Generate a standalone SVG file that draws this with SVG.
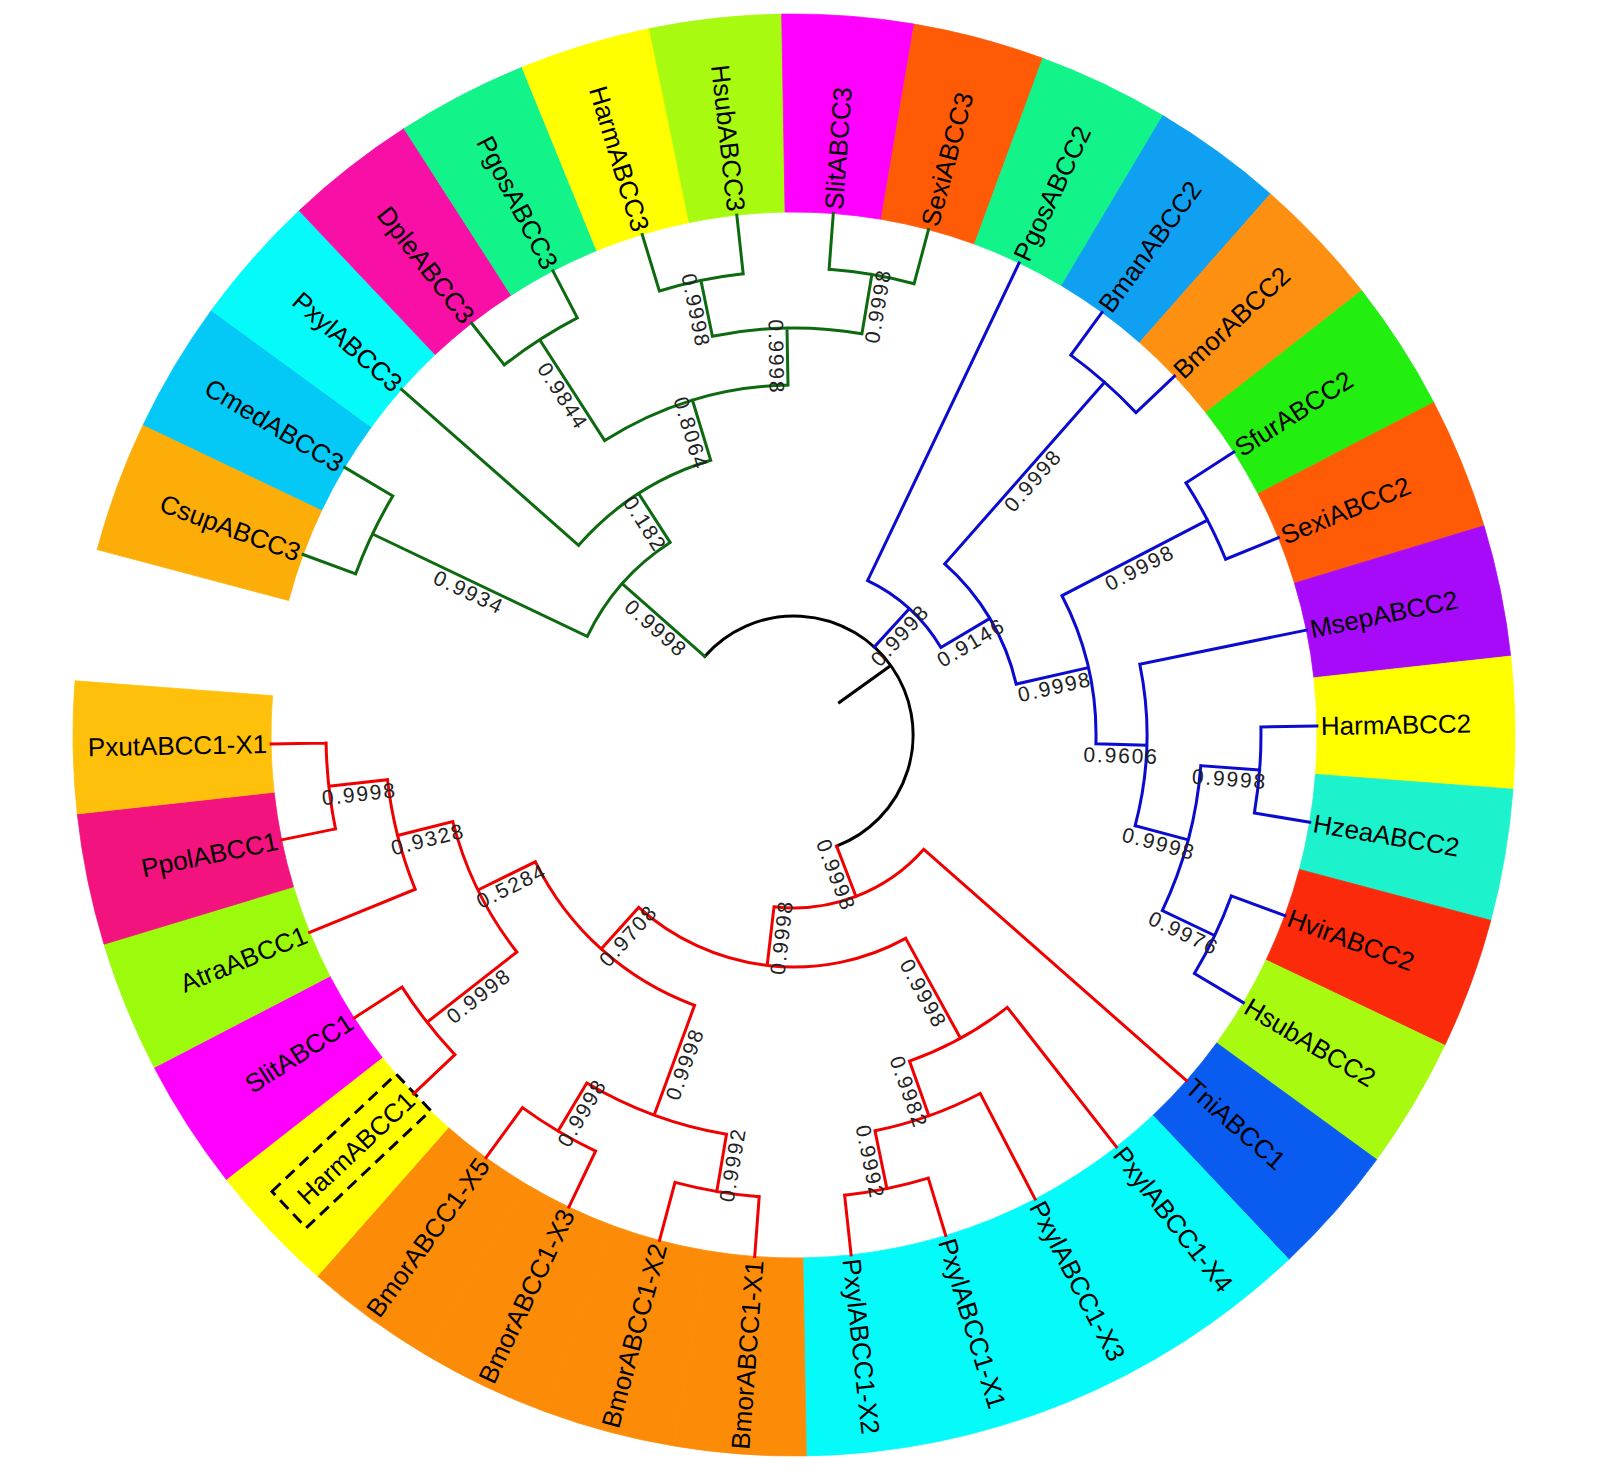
<svg xmlns="http://www.w3.org/2000/svg" width="1603" height="1474" viewBox="0 0 1603 1474">
<style>
.seg{stroke-width:0.8}
.lbl{font-family:"Liberation Sans",Arial,sans-serif;font-size:26px;fill:#000}
.bs{font-family:"Liberation Sans",Arial,sans-serif;font-size:21px;letter-spacing:1.8px;fill:#222;text-anchor:middle}
.br{fill:none;stroke-width:3;stroke-linecap:square;stroke-linejoin:miter}
.g{stroke:#0E6A10}.b{stroke:#0B0BD0}.r{stroke:#F00000}.k{stroke:#000}
.box{fill:none;stroke:#000;stroke-width:3;stroke-dasharray:12 7}
</style>
<rect width="1603" height="1474" fill="#fff"/>
<g id="leaves">
<g id="leaf-CsupABCC3"><path class="seg" fill="#FDAD08" stroke="#FDAD08" d="M97.2,549.6 A721,721 0 0 1 143.2,424.7 L321.9,509.9 A523,523 0 0 0 288.6,600.5 Z"/><text class="lbl" transform="translate(299.4,553.1) rotate(20.19)" text-anchor="end" dy="0.35em">CsupABCC3</text></g>
<g id="leaf-CmedABCC3"><path class="seg" fill="#04C8F6" stroke="#04C8F6" d="M143.2,424.7 A721,721 0 0 1 211.3,310.4 L371.3,427.0 A523,523 0 0 0 321.9,509.9 Z"/><text class="lbl" transform="translate(341.3,465.3) rotate(30.78)" text-anchor="end" dy="0.35em">CmedABCC3</text></g>
<g id="leaf-PxylABCC3"><path class="seg" fill="#05FAFA" stroke="#05FAFA" d="M211.3,310.4 A721,721 0 0 1 299.2,210.6 L435.1,354.6 A523,523 0 0 0 371.3,427.0 Z"/><text class="lbl" transform="translate(398.5,386.7) rotate(41.37)" text-anchor="end" dy="0.35em">PxylABCC3</text></g>
<g id="leaf-DpleABCC3"><path class="seg" fill="#F70FA6" stroke="#F70FA6" d="M299.2,210.6 A721,721 0 0 1 404.0,128.6 L511.1,295.2 A523,523 0 0 0 435.1,354.6 Z"/><text class="lbl" transform="translate(469.2,320.0) rotate(51.96)" text-anchor="end" dy="0.35em">DpleABCC3</text></g>
<g id="leaf-PgosABCC3"><path class="seg" fill="#12F38A" stroke="#12F38A" d="M404.0,128.6 A721,721 0 0 1 522.0,67.3 L596.7,250.6 A523,523 0 0 0 511.1,295.2 Z"/><text class="lbl" transform="translate(551.1,267.3) rotate(62.55)" text-anchor="end" dy="0.35em">PgosABCC3</text></g>
<g id="leaf-HarmABCC3"><path class="seg" fill="#FFFF00" stroke="#FFFF00" d="M522.0,67.3 A721,721 0 0 1 649.4,28.6 L689.1,222.6 A523,523 0 0 0 596.7,250.6 Z"/><text class="lbl" transform="translate(641.1,230.7) rotate(73.13)" text-anchor="end" dy="0.35em">HarmABCC3</text></g>
<g id="leaf-HsubABCC3"><path class="seg" fill="#A8FA10" stroke="#A8FA10" d="M649.4,28.6 A721,721 0 0 1 781.7,14.1 L785.1,212.1 A523,523 0 0 0 689.1,222.6 Z"/><text class="lbl" transform="translate(736.3,211.2) rotate(83.72)" text-anchor="end" dy="0.35em">HsubABCC3</text></g>
<g id="leaf-SlitABCC3"><path class="seg" fill="#FF00FF" stroke="#FF00FF" d="M781.7,14.1 A721,721 0 0 1 914.2,24.1 L881.2,219.3 A523,523 0 0 0 785.1,212.1 Z"/><text class="lbl" transform="translate(833.6,209.5) rotate(-85.69)" dy="0.35em">SlitABCC3</text></g>
<g id="leaf-SexiABCC3"><path class="seg" fill="#FF5A06" stroke="#FF5A06" d="M914.2,24.1 A721,721 0 0 1 1042.8,58.3 L974.5,244.1 A523,523 0 0 0 881.2,219.3 Z"/><text class="lbl" transform="translate(929.5,225.7) rotate(-75.10)" dy="0.35em">SexiABCC3</text></g>
<g id="leaf-PgosABCC2"><path class="seg" fill="#12F38A" stroke="#12F38A" d="M1042.8,58.3 A721,721 0 0 1 1162.9,115.6 L1061.6,285.7 A523,523 0 0 0 974.5,244.1 Z"/><text class="lbl" transform="translate(1020.8,259.3) rotate(-64.51)" dy="0.35em">PgosABCC2</text></g>
<g id="leaf-BmanABCC2"><path class="seg" fill="#10A0F2" stroke="#10A0F2" d="M1162.9,115.6 A721,721 0 0 1 1270.5,193.9 L1139.6,342.5 A523,523 0 0 0 1061.6,285.7 Z"/><text class="lbl" transform="translate(1104.4,309.1) rotate(-53.92)" dy="0.35em">BmanABCC2</text></g>
<g id="leaf-BmorABCC2"><path class="seg" fill="#FD9010" stroke="#FD9010" d="M1270.5,193.9 A721,721 0 0 1 1361.7,290.6 L1205.8,412.6 A523,523 0 0 0 1139.6,342.5 Z"/><text class="lbl" transform="translate(1177.5,373.5) rotate(-43.33)" dy="0.35em">BmorABCC2</text></g>
<g id="leaf-SfurABCC2"><path class="seg" fill="#22EE10" stroke="#22EE10" d="M1361.7,290.6 A721,721 0 0 1 1433.8,402.5 L1258.1,493.8 A523,523 0 0 0 1205.8,412.6 Z"/><text class="lbl" transform="translate(1237.2,449.9) rotate(-32.75)" dy="0.35em">SfurABCC2</text></g>
<g id="leaf-SexiABCC2"><path class="seg" fill="#FF5A06" stroke="#FF5A06" d="M1433.8,402.5 A721,721 0 0 1 1484.0,525.8 L1294.5,583.2 A523,523 0 0 0 1258.1,493.8 Z"/><text class="lbl" transform="translate(1282.1,536.2) rotate(-22.16)" dy="0.35em">SexiABCC2</text></g>
<g id="leaf-MsepABCC2"><path class="seg" fill="#A70AF8" stroke="#A70AF8" d="M1484.0,525.8 A721,721 0 0 1 1510.7,656.1 L1313.9,677.8 A523,523 0 0 0 1294.5,583.2 Z"/><text class="lbl" transform="translate(1310.3,629.3) rotate(-11.57)" dy="0.35em">MsepABCC2</text></g>
<g id="leaf-HarmABCC2"><path class="seg" fill="#FFFF00" stroke="#FFFF00" d="M1510.7,656.1 A721,721 0 0 1 1513.0,789.2 L1315.5,774.3 A523,523 0 0 0 1313.9,677.8 Z"/><text class="lbl" transform="translate(1320.9,726.0) rotate(-0.98)" dy="0.35em">HarmABCC2</text></g>
<g id="leaf-HzeaABCC2"><path class="seg" fill="#1CF2CC" stroke="#1CF2CC" d="M1513.0,789.2 A721,721 0 0 1 1490.8,920.4 L1299.4,869.5 A523,523 0 0 0 1315.5,774.3 Z"/><text class="lbl" transform="translate(1313.6,823.0) rotate(9.61)" dy="0.35em">HzeaABCC2</text></g>
<g id="leaf-HvirABCC2"><path class="seg" fill="#FA2A0A" stroke="#FA2A0A" d="M1490.8,920.4 A721,721 0 0 1 1444.8,1045.3 L1266.1,960.1 A523,523 0 0 0 1299.4,869.5 Z"/><text class="lbl" transform="translate(1288.6,917.0) rotate(20.20)" dy="0.35em">HvirABCC2</text></g>
<g id="leaf-HsubABCC2"><path class="seg" fill="#A8FA10" stroke="#A8FA10" d="M1444.8,1045.3 A721,721 0 0 1 1376.7,1159.6 L1216.7,1043.0 A523,523 0 0 0 1266.1,960.1 Z"/><text class="lbl" transform="translate(1246.8,1004.7) rotate(30.78)" dy="0.35em">HsubABCC2</text></g>
<g id="leaf-TniABCC1"><path class="seg" fill="#0A5CF0" stroke="#0A5CF0" d="M1376.7,1159.6 A721,721 0 0 1 1288.8,1259.4 L1152.9,1115.4 A523,523 0 0 0 1216.7,1043.0 Z"/><text class="lbl" transform="translate(1189.5,1083.3) rotate(41.37)" dy="0.35em">TniABCC1</text></g>
<g id="leaf-PxylABCC1-X4"><path class="seg" fill="#05FAFA" stroke="#05FAFA" d="M1288.8,1259.4 A721,721 0 0 1 1184.0,1341.4 L1076.9,1174.8 A523,523 0 0 0 1152.9,1115.4 Z"/><text class="lbl" transform="translate(1118.8,1150.0) rotate(51.96)" dy="0.35em">PxylABCC1-X4</text></g>
<g id="leaf-PxylABCC1-X3"><path class="seg" fill="#05FAFA" stroke="#05FAFA" d="M1184.0,1341.4 A721,721 0 0 1 1066.0,1402.7 L991.3,1219.4 A523,523 0 0 0 1076.9,1174.8 Z"/><text class="lbl" transform="translate(1036.9,1202.7) rotate(62.55)" dy="0.35em">PxylABCC1-X3</text></g>
<g id="leaf-PxylABCC1-X1"><path class="seg" fill="#05FAFA" stroke="#05FAFA" d="M1066.0,1402.7 A721,721 0 0 1 938.6,1441.4 L898.9,1247.4 A523,523 0 0 0 991.3,1219.4 Z"/><text class="lbl" transform="translate(946.8,1239.3) rotate(73.14)" dy="0.35em">PxylABCC1-X1</text></g>
<g id="leaf-PxylABCC1-X2"><path class="seg" fill="#05FAFA" stroke="#05FAFA" d="M938.6,1441.4 A721,721 0 0 1 806.3,1455.9 L802.9,1257.9 A523,523 0 0 0 898.9,1247.4 Z"/><text class="lbl" transform="translate(851.6,1258.8) rotate(83.73)" dy="0.35em">PxylABCC1-X2</text></g>
<g id="leaf-BmorABCC1-X1"><path class="seg" fill="#FC8C08" stroke="#FC8C08" d="M806.3,1455.9 A721,721 0 0 1 673.8,1445.9 L706.8,1250.7 A523,523 0 0 0 802.9,1257.9 Z"/><text class="lbl" transform="translate(754.4,1260.5) rotate(-85.69)" text-anchor="end" dy="0.35em">BmorABCC1-X1</text></g>
<g id="leaf-BmorABCC1-X2"><path class="seg" fill="#FC8C08" stroke="#FC8C08" d="M673.8,1445.9 A721,721 0 0 1 545.2,1411.7 L613.5,1225.9 A523,523 0 0 0 706.8,1250.7 Z"/><text class="lbl" transform="translate(658.5,1244.3) rotate(-75.10)" text-anchor="end" dy="0.35em">BmorABCC1-X2</text></g>
<g id="leaf-BmorABCC1-X3"><path class="seg" fill="#FC8C08" stroke="#FC8C08" d="M545.2,1411.7 A721,721 0 0 1 425.1,1354.4 L526.4,1184.3 A523,523 0 0 0 613.5,1225.9 Z"/><text class="lbl" transform="translate(567.2,1210.7) rotate(-64.51)" text-anchor="end" dy="0.35em">BmorABCC1-X3</text></g>
<g id="leaf-BmorABCC1-X5"><path class="seg" fill="#FC8C08" stroke="#FC8C08" d="M425.1,1354.4 A721,721 0 0 1 317.5,1276.1 L448.4,1127.5 A523,523 0 0 0 526.4,1184.3 Z"/><text class="lbl" transform="translate(483.6,1160.9) rotate(-53.92)" text-anchor="end" dy="0.35em">BmorABCC1-X5</text></g>
<g id="leaf-HarmABCC1"><path class="seg" fill="#FFFF00" stroke="#FFFF00" d="M317.5,1276.1 A721,721 0 0 1 226.3,1179.4 L382.2,1057.4 A523,523 0 0 0 448.4,1127.5 Z"/><text class="lbl" transform="translate(410.5,1096.5) rotate(-43.33)" text-anchor="end" dy="0.35em">HarmABCC1</text><rect class="box" x="-166" y="-26" width="171" height="50" transform="translate(410.5,1096.5) rotate(-43.33)"/></g>
<g id="leaf-SlitABCC1"><path class="seg" fill="#FF00FF" stroke="#FF00FF" d="M226.3,1179.4 A721,721 0 0 1 154.2,1067.5 L329.9,976.2 A523,523 0 0 0 382.2,1057.4 Z"/><text class="lbl" transform="translate(350.8,1020.1) rotate(-32.75)" text-anchor="end" dy="0.35em">SlitABCC1</text></g>
<g id="leaf-AtraABCC1"><path class="seg" fill="#9CFA0C" stroke="#9CFA0C" d="M154.2,1067.5 A721,721 0 0 1 104.0,944.2 L293.5,886.8 A523,523 0 0 0 329.9,976.2 Z"/><text class="lbl" transform="translate(305.9,933.8) rotate(-22.16)" text-anchor="end" dy="0.35em">AtraABCC1</text></g>
<g id="leaf-PpolABCC1"><path class="seg" fill="#F2137E" stroke="#F2137E" d="M104.0,944.2 A721,721 0 0 1 77.3,813.9 L274.1,792.2 A523,523 0 0 0 293.5,886.8 Z"/><text class="lbl" transform="translate(277.7,840.7) rotate(-11.57)" text-anchor="end" dy="0.35em">PpolABCC1</text></g>
<g id="leaf-PxutABCC1-X1"><path class="seg" fill="#FEC00A" stroke="#FEC00A" d="M77.3,813.9 A721,721 0 0 1 75.0,680.8 L272.5,695.7 A523,523 0 0 0 274.1,792.2 Z"/><text class="lbl" transform="translate(267.1,744.0) rotate(-0.98)" text-anchor="end" dy="0.35em">PxutABCC1-X1</text></g>
</g>
<g id="connectors">
<path class="br k" d="M704.7,656.4 A119,119 0 1 1 836.6,846.1 M839.5,702.3 L890.6,665.6"/>
<path class="br g" d="M704.7,656.4 L622.1,583.7 M587.3,636.4 A229,229 0 0 1 670.1,542.4 M587.3,636.4 L372.5,534.0 M355.7,573.8 A467,467 0 0 1 392.8,496.0 M355.7,573.8 L303.1,554.5 M392.8,496.0 L344.7,467.4 M670.1,542.4 L638.7,493.6 M578.6,545.3 A287,287 0 0 1 710.7,460.3 M578.6,545.3 L401.5,389.3 M710.7,460.3 L692.4,400.0 M604.7,440.6 A350,350 0 0 1 788.0,385.1 M604.7,440.6 L539.7,339.7 M504.3,364.9 A470,470 0 0 1 577.3,317.9 M504.3,364.9 L471.6,323.2 M577.3,317.9 L552.9,270.9 M788.0,385.1 L787.0,328.1 M712.4,336.3 A407,407 0 0 1 861.9,333.7 M712.4,336.3 L700.9,280.4 M659.4,291.0 A464,464 0 0 1 743.2,273.8 M659.4,291.0 L642.2,234.5 M743.2,273.8 L736.8,215.1 M861.9,333.7 L871.9,274.5 M829.1,269.3 A467,467 0 0 1 914.1,283.7 M829.1,269.3 L833.3,213.5 M914.1,283.7 L928.5,229.6"/>
<path class="br b" d="M874.2,647.1 L909.2,608.7 M867.6,580.6 A171,171 0 0 1 940.9,647.5 M867.6,580.6 L1019.1,262.9 M940.9,647.5 L989.9,618.4 M944.7,563.9 A228,228 0 0 1 1016.2,684.1 M944.7,563.9 L1104.6,382.3 M1070.8,355.1 A470,470 0 0 1 1136.0,412.6 M1070.8,355.1 L1102.0,312.3 M1136.0,412.6 L1174.5,376.2 M1016.2,684.1 L1088.4,667.6 M1062.0,595.7 A302,302 0 0 1 1095.9,743.8 M1062.0,595.7 L1207.5,520.1 M1185.9,482.9 A466,466 0 0 1 1225.6,559.2 M1185.9,482.9 L1233.8,452.1 M1225.6,559.2 L1278.4,537.7 M1095.9,743.8 L1146.9,745.3 M1139.8,664.2 A353,353 0 0 1 1135.1,825.8 M1139.8,664.2 L1306.4,630.1 M1135.1,825.8 L1188.3,839.9 M1200.8,765.7 A408,408 0 0 1 1162.3,910.6 M1200.8,765.7 L1259.7,770.1 M1260.9,727.0 A467,467 0 0 1 1254.4,813.0 M1260.9,727.0 L1316.9,726.1 M1254.4,813.0 L1309.7,822.3 M1162.3,910.6 L1214.6,935.5 M1231.3,895.9 A466,466 0 0 1 1194.4,973.5 M1231.3,895.9 L1284.8,915.6 M1194.4,973.5 L1243.3,1002.6"/>
<path class="br r" d="M836.6,846.1 L856.0,896.5 M923.8,849.3 A173,173 0 0 1 774.0,906.8 M923.8,849.3 L1186.5,1080.6 M774.0,906.8 L767.2,965.4 M905.7,938.4 A232,232 0 0 1 638.7,907.4 M905.7,938.4 L960.5,1038.3 M1007.3,1007.4 A346,346 0 0 1 909.5,1061.1 M1007.3,1007.4 L1116.4,1146.8 M909.5,1061.1 L928.9,1115.8 M980.2,1093.5 A404,404 0 0 1 875.0,1130.8 M980.2,1093.5 L1035.1,1199.1 M875.0,1130.8 L886.9,1188.6 M928.3,1178.1 A463,463 0 0 1 844.6,1195.2 M928.3,1178.1 L945.7,1235.5 M844.6,1195.2 L851.1,1254.9 M638.7,907.4 L601.2,949.0 M694.6,1005.3 A288,288 0 0 1 535.4,861.8 M694.6,1005.3 L654.2,1115.1 M726.5,1134.3 A405,405 0 0 1 586.8,1083.0 M726.5,1134.3 L716.8,1191.5 M759.2,1196.7 A463,463 0 0 1 675.0,1182.4 M759.2,1196.7 L754.7,1256.5 M675.0,1182.4 L659.5,1240.4 M586.8,1083.0 L558.1,1131.1 M595.6,1151.1 A461,461 0 0 1 522.5,1107.6 M595.6,1151.1 L568.9,1207.1 M522.5,1107.6 L486.0,1157.7 M535.4,861.8 L478.0,890.0 M516.8,952.0 A352,352 0 0 1 452.8,821.5 M516.8,952.0 L427.1,1022.2 M454.9,1054.7 A466,466 0 0 1 402.1,987.1 M454.9,1054.7 L413.5,1093.8 M402.1,987.1 L354.2,1017.9 M452.8,821.5 L397.5,835.5 M415.2,889.3 A409,409 0 0 1 387.5,779.7 M415.2,889.3 L309.6,932.3 M387.5,779.7 L328.8,786.2 M335.5,828.9 A468,468 0 0 1 326.1,743.0 M335.5,828.9 L281.6,839.9 M326.1,743.0 L271.1,743.9"/>
<g id="support-values">
<text class="bs" transform="translate(663.4,620.0) rotate(41.37)" y="11" dy="0.35em">0.9998</text>
<text class="bs" transform="translate(473.6,582.2) rotate(25.485)" y="11" dy="0.35em">0.9934</text>
<text class="bs" transform="translate(654.4,518.0) rotate(57.25)" y="11" dy="0.35em">0.182</text>
<text class="bs" transform="translate(701.6,430.2) rotate(73.135)" y="11" dy="0.35em">0.8064</text>
<text class="bs" transform="translate(572.2,390.2) rotate(57.255)" y="11" dy="0.35em">0.9844</text>
<text class="bs" transform="translate(706.7,308.3) rotate(78.425)" y="11" dy="0.35em">0.9998</text>
<text class="bs" transform="translate(787.5,356.6) rotate(89.015)" y="11" dy="0.35em">0.9998</text>
<text class="bs" transform="translate(866.9,304.1) rotate(-80.395)" y="11" dy="0.35em">0.9998</text>
<text class="bs" transform="translate(891.7,627.9) rotate(-47.635)" y="11" dy="0.35em">0.9998</text>
<text class="bs" transform="translate(965.4,633.0) rotate(-30.76)" y="11" dy="0.35em">0.9146</text>
<text class="bs" transform="translate(1024.6,473.1) rotate(-48.625)" y="11" dy="0.35em">0.9998</text>
<text class="bs" transform="translate(1052.3,675.9) rotate(-12.894)" y="11" dy="0.35em">0.9998</text>
<text class="bs" transform="translate(1134.7,557.9) rotate(-27.455)" y="11" dy="0.35em">0.9998</text>
<text class="bs" transform="translate(1121.4,744.5) rotate(1.666)" y="11" dy="0.35em">0.9606</text>
<text class="bs" transform="translate(1161.7,832.8) rotate(14.9)" y="11" dy="0.35em">0.9998</text>
<text class="bs" transform="translate(1230.3,767.9) rotate(4.315)" y="11" dy="0.35em">0.9998</text>
<text class="bs" transform="translate(1188.4,923.1) rotate(25.49)" y="11" dy="0.35em">0.9976</text>
<text class="bs" transform="translate(846.3,871.3) rotate(69.0)" y="11" dy="0.35em">0.9998</text>
<text class="bs" transform="translate(770.6,936.1) rotate(-83.37)" y="11" dy="0.35em">0.9998</text>
<text class="bs" transform="translate(933.1,988.3) rotate(61.226)" y="11" dy="0.35em">0.9998</text>
<text class="bs" transform="translate(919.2,1088.5) rotate(70.49)" y="11" dy="0.35em">0.9982</text>
<text class="bs" transform="translate(880.9,1159.7) rotate(78.435)" y="11" dy="0.35em">0.9992</text>
<text class="bs" transform="translate(620.0,928.2) rotate(-47.967)" y="11" dy="0.35em">0.9708</text>
<text class="bs" transform="translate(674.4,1060.2) rotate(-69.805)" y="11" dy="0.35em">0.9998</text>
<text class="bs" transform="translate(721.6,1162.9) rotate(-80.395)" y="11" dy="0.35em">0.9992</text>
<text class="bs" transform="translate(572.4,1107.0) rotate(-59.215)" y="11" dy="0.35em">0.9998</text>
<text class="bs" transform="translate(506.7,875.9) rotate(-26.129)" y="11" dy="0.35em">0.5284</text>
<text class="bs" transform="translate(471.9,987.1) rotate(-38.04)" y="11" dy="0.35em">0.9998</text>
<text class="bs" transform="translate(425.2,828.5) rotate(-14.22)" y="11" dy="0.35em">0.9328</text>
<text class="bs" transform="translate(358.1,783.0) rotate(-6.275)" y="11" dy="0.35em">0.9998</text>
</g>
</g>
</svg>
